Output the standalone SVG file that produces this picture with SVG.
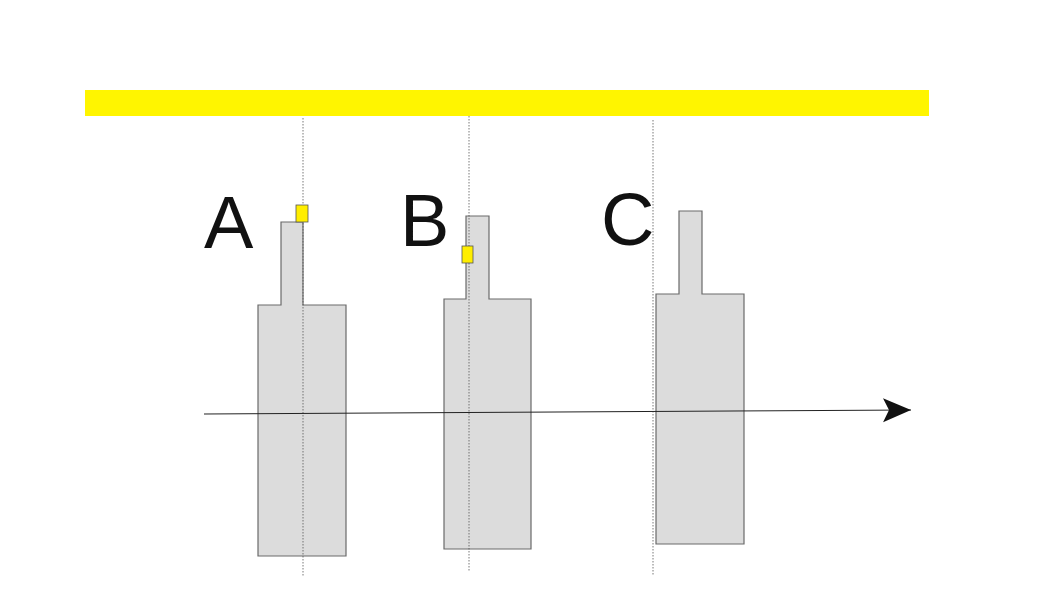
<svg xmlns="http://www.w3.org/2000/svg" width="1053" height="604" viewBox="0 0 1053 604">
<defs>
<style>
.body{fill:#dcdcdc;stroke:#6a6a6a;stroke-width:1.2}
.axis{stroke:#555;stroke-width:0.8;stroke-dasharray:1.5 1.5;fill:none}
.mark{fill:#ffee00;stroke:#555;stroke-width:0.8}
.lbl{font-family:"Liberation Sans",Arial,sans-serif;font-size:74px;fill:#111}
</style>
<marker id="ah" markerWidth="30" markerHeight="26" refX="28" refY="12" orient="auto" markerUnits="userSpaceOnUse">
<path d="M0,0 L28,12 L0,24 L6,12 Z" fill="#111"/>
</marker>
</defs>
<rect id="bar" x="85" y="90" width="844" height="26" fill="#fff500"/>
<g id="nodeA">
<path class="body" d="M281,222 H303 V305 H346 V556 H258 V305 H281 Z"/>
<line class="axis" x1="303" y1="118" x2="303" y2="576"/>
<rect class="mark" x="296" y="205" width="12" height="17"/>
<text class="lbl" x="204" y="248">A</text>
</g>
<g id="nodeB">
<path class="body" d="M466,216 H489 V299 H531 V549 H444 V299 H466 Z"/>
<line class="axis" x1="469" y1="116" x2="469" y2="572"/>
<rect class="mark" x="462" y="246" width="11" height="17"/>
<text class="lbl" x="400" y="246">B</text>
</g>
<g id="nodeC">
<path class="body" d="M679,211 H702 V294 H744 V544 H656 V294 H679 Z"/>
<line class="axis" x1="653" y1="120" x2="653" y2="576"/>
<text class="lbl" x="601" y="245">C</text>
</g>
<g id="connectors">
<line x1="204" y1="414" x2="911" y2="410" stroke="#222" stroke-width="1" marker-end="url(#ah)"/>
</g>
</svg>
